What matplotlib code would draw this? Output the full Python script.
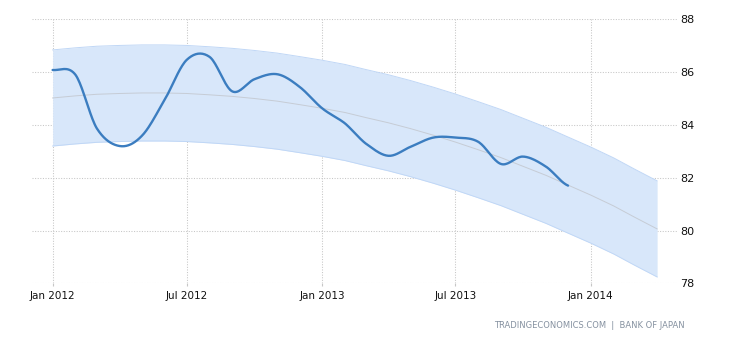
import numpy as np
import matplotlib
matplotlib.use("Agg")
import matplotlib.pyplot as plt
import matplotlib.dates as mdates
import datetime as dt

# ---- data ----
months = [dt.date(2012 + (m // 12), m % 12 + 1, 1) for m in range(24)]  # Jan 2012 .. Dec 2013
values = [86.08, 85.90, 83.87, 83.20, 83.58, 84.94, 86.46, 86.58, 85.27, 85.73, 85.92, 85.45,
          84.63, 84.06, 83.30, 82.83, 83.17, 83.52, 83.52, 83.36, 82.52, 82.80, 82.42, 81.70]

trend_months = [dt.date(2012 + (m // 12), m % 12 + 1, 1) for m in range(28)]  # Jan 2012 .. Apr 2014
trend = [85.02, 85.10, 85.16, 85.19, 85.21, 85.21, 85.19, 85.14, 85.08, 85.00, 84.90, 84.77,
         84.63, 84.47, 84.28, 84.08, 83.86, 83.61, 83.35, 83.06, 82.76, 82.43, 82.09, 81.72,
         81.34, 80.93, 80.51, 80.06]
band_half = 1.82

xtick_labels = ["Jan 2012", "Jul 2012", "Jan 2013", "Jul 2013", "Jan 2014"]
xtick_dates = [dt.date(2012, 1, 1), dt.date(2012, 7, 1), dt.date(2013, 1, 1),
               dt.date(2013, 7, 1), dt.date(2014, 1, 1)]
yticks = [78, 80, 82, 84, 86, 88]

# ---- smoothing for display (Catmull-Rom) ----
def smooth(xs, ys, n=20):
    xs = np.asarray(xs, float); ys = np.asarray(ys, float)
    px = np.concatenate([[xs[0]], xs, [xs[-1]]])
    py = np.concatenate([[ys[0]], ys, [ys[-1]]])
    ox, oy = [], []
    for i in range(1, len(px) - 2):
        t = np.linspace(0, 1, n, endpoint=False)
        x0, x1 = px[i], px[i + 1]
        p0, p1, p2, p3 = py[i - 1], py[i], py[i + 1], py[i + 2]
        m1 = (p2 - p0) / 2.0
        m2 = (p3 - p1) / 2.0
        h00 = 2 * t**3 - 3 * t**2 + 1
        h10 = t**3 - 2 * t**2 + t
        h01 = -2 * t**3 + 3 * t**2
        h11 = t**3 - t**2
        oy.append(h00 * p1 + h10 * m1 + h01 * p2 + h11 * m2)
        ox.append(x0 + t * (x1 - x0))
    ox.append([xs[-1]]); oy.append([ys[-1]])
    return np.concatenate(ox), np.concatenate(oy)

xd = mdates.date2num(months)
xt = mdates.date2num(trend_months)
sx, sy = smooth(xd, values)

fig = plt.figure(figsize=(7.30, 3.40), dpi=100)
ax = fig.add_axes([32 / 730, (340 - 283.3) / 340, (677 - 32) / 730, (283.3 - 19.3) / 340])

tr = np.array(trend)
ax.fill_between(xt, tr - band_half, tr + band_half, color="#d8e7fa", lw=0, zorder=1)
ax.plot(xt, tr + band_half, color="#c0d7f6", lw=0.7, zorder=2)
ax.plot(xt, tr - band_half, color="#c0d7f6", lw=0.7, zorder=2)
ax.plot(xt, tr, color="#c6ccd5", lw=0.7, zorder=2)
ax.plot(sx, sy, color="#3b7dc0", lw=1.7, zorder=4, solid_capstyle="round")

ax.set_xlim(mdates.date2num(dt.date(2011, 12, 4)), mdates.date2num(dt.date(2014, 4, 28)))
ax.set_ylim(78, 88)
ax.set_yticks(yticks)
ax.set_yticklabels([str(v) for v in yticks])
ax.set_xticks(mdates.date2num(xtick_dates))
ax.set_xticklabels(xtick_labels)

ax.grid(True, color="#c6c6c6", lw=0.75, linestyle=(0, (1, 1.5)), zorder=0)
for s in ax.spines.values():
    s.set_visible(False)
ax.yaxis.tick_right()
ax.tick_params(axis="y", length=0, pad=2, labelsize=8, labelcolor="#111111")
ax.tick_params(axis="x", length=2.5, width=0.8, color="#c6c6c6", pad=3, labelsize=7.5,
               labelcolor="#111111")
ax.set_axisbelow(True)

fig.text(685 / 730, 1 - 325 / 340, "TRADINGECONOMICS.COM  |  BANK OF JAPAN", ha="right", va="center",
         fontsize=6, color="#8591a0")

fig.savefig("out.png", dpi=100)
